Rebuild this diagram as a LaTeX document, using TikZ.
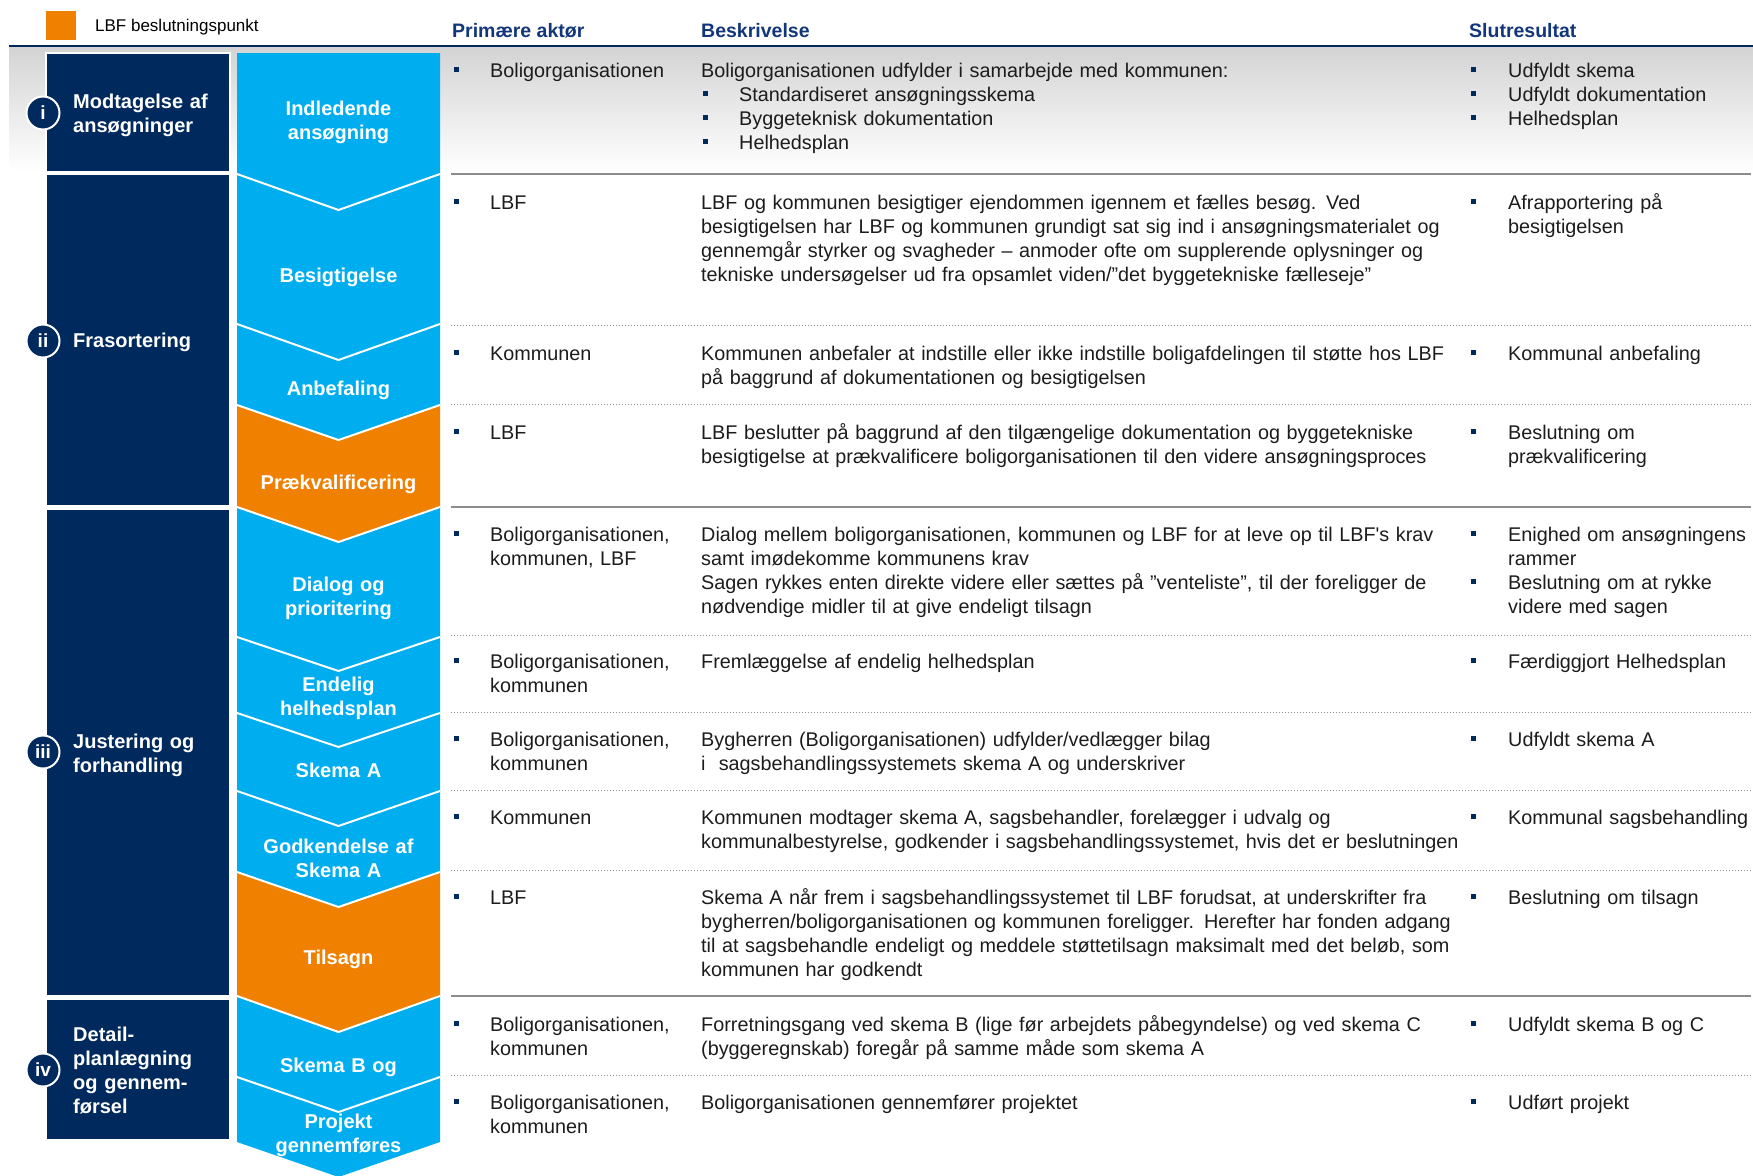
\documentclass[tikz,border=0pt]{standalone}
\usepackage{fontspec}
\setmainfont{Liberation Sans}
\usepackage{tikz}

\definecolor{lbfnavy}{RGB}{0,41,94}
\definecolor{lbfcyan}{RGB}{0,174,239}
\definecolor{lbforange}{RGB}{240,128,0}
\definecolor{lbfhead}{RGB}{18,54,122}
\definecolor{lbftext}{RGB}{28,28,28}

% small square bullet, centred a little above the baseline
\newcommand{\sqb}[2]{\fill[lbfnavy] (#1-2.5,#2-10.5) rectangle ++(5,5);}

\begin{document}
\begin{tikzpicture}[x=1pt,y=-1pt,
  phasebox/.style={fill=lbfnavy,draw=white,line width=1.5pt},
  phasetxt/.style={text=white,font=\bfseries\fontsize{20}{24}\selectfont,
    anchor=base west,align=left,inner sep=0pt,text width=150pt},
  phasenum/.style={circle,fill=lbfnavy,draw=white,line width=2pt,
    minimum size=33pt,inner sep=0pt,text=white,font=\bfseries\fontsize{19}{22}\selectfont},
  stepfill/.style={fill=lbfcyan},
  gofill/.style={fill=lbforange},
  vline/.style={draw=white,line width=2pt},
  steptxt/.style={text=white,font=\bfseries\fontsize{20}{24}\selectfont,
    anchor=base,align=center,inner sep=0pt,text width=200pt},
  colhead/.style={text=lbfhead,font=\bfseries\fontsize{19.5}{24}\selectfont,
    anchor=base west,inner sep=0pt},
  keytxt/.style={text=black,font=\fontsize{17}{20}\selectfont,anchor=base west,inner sep=0pt},
  body/.style={text=lbftext,font=\fontsize{19.8}{24}\selectfont,
    anchor=base west,align=left,inner sep=0pt,text width=#1},
  body/.default=200pt,
  headline/.style={draw=lbfnavy,line width=2.5pt},
  solidsep/.style={draw=black!45,line width=2pt},
  dotsep/.style={draw=black!45,line width=1pt,dash pattern=on 1pt off 2pt}
]
\useasboundingbox (0,0) rectangle (1753,1175);

% Legend
\fill[lbforange] (46,11) rectangle (76,40);
\node[keytxt] (key) at (95,31) {LBF beslutningspunkt};

% First row shading and header rule
\shade[top color=black!17,bottom color=white] (9,47) rectangle (1753,172);
\draw[headline] (9,46) -- (1753,46);

% Column headings
\node[colhead] (hActor)  at (452,37)  {Primære aktør};
\node[colhead] (hDesc)   at (701,37)  {Beskrivelse};
\node[colhead] (hResult) at (1469,37) {Slutresultat};

% Phases (dark column)
\draw[phasebox] (46,53)  rectangle (230,172);
\draw[phasebox] (46,174) rectangle (230,506);
\draw[phasebox] (46,509) rectangle (230,996);
\draw[phasebox] (46,999) rectangle (230,1140);

\node[phasetxt] (p1) at (73,108)  {Modtagelse af\\ansøgninger};
\node[phasetxt] (p2) at (73,347)  {Frasortering};
\node[phasetxt] (p3) at (73,748)  {Justering og\\forhandling};
\node[phasetxt] (p4) at (73,1041) {Detail-\\planlægning\\og gennem-\\førsel};

\node[phasenum] (n1) at (43,113)  {i};
\node[phasenum] (n2) at (43,341)  {ii};
\node[phasenum] (n3) at (43,752)  {iii};
\node[phasenum] (n4) at (43,1070) {iv};

% Process chevrons
\fill[stepfill] (237,53) -- (440,53) -- (440,174) -- (338.5,210) -- (237,174) -- cycle;
\fill[stepfill] (237,174) -- (338.5,210) -- (440,174) -- (440,324) -- (338.5,360) -- (237,324) -- cycle;
\fill[stepfill] (237,324) -- (338.5,360) -- (440,324) -- (440,405) -- (338.5,440) -- (237,405) -- cycle;
\fill[gofill]   (237,405) -- (338.5,440) -- (440,405) -- (440,507) -- (338.5,542) -- (237,507) -- cycle;
\fill[stepfill] (237,507) -- (338.5,542) -- (440,507) -- (440,637) -- (338.5,671) -- (237,637) -- cycle;
\fill[stepfill] (237,637) -- (338.5,671) -- (440,637) -- (440,713) -- (338.5,747) -- (237,713) -- cycle;
\fill[stepfill] (237,713) -- (338.5,747) -- (440,713) -- (440,791) -- (338.5,826) -- (237,791) -- cycle;
\fill[stepfill] (237,791) -- (338.5,826) -- (440,791) -- (440,872) -- (338.5,907) -- (237,872) -- cycle;
\fill[gofill]   (237,872) -- (338.5,907) -- (440,872) -- (440,996) -- (338.5,1032) -- (237,996) -- cycle;
\fill[stepfill] (237,996) -- (338.5,1032) -- (440,996) -- (440,1077) -- (338.5,1112) -- (237,1077) -- cycle;
\fill[stepfill] (237,1077) -- (338.5,1112) -- (440,1077) -- (440,1142) -- (338.5,1177) -- (237,1142) -- cycle;

\draw[vline] (237,174) -- (338.5,210) -- (440,174);
\draw[vline] (237,324) -- (338.5,360) -- (440,324);
\draw[vline] (237,405) -- (338.5,440) -- (440,405);
\draw[vline] (237,507) -- (338.5,542) -- (440,507);
\draw[vline] (237,637) -- (338.5,671) -- (440,637);
\draw[vline] (237,713) -- (338.5,747) -- (440,713);
\draw[vline] (237,791) -- (338.5,826) -- (440,791);
\draw[vline] (237,872) -- (338.5,907) -- (440,872);
\draw[vline] (237,996) -- (338.5,1032) -- (440,996);
\draw[vline] (237,1077) -- (338.5,1112) -- (440,1077);

\node[steptxt] (s1)  at (338.5,115)  {Indledende\\ansøgning};
\node[steptxt] (s2)  at (338.5,282)  {Besigtigelse};
\node[steptxt] (s3)  at (338.5,395)  {Anbefaling};
\node[steptxt] (s4)  at (338.5,489)  {Prækvalificering};
\node[steptxt] (s5)  at (338.5,591)  {Dialog og\\prioritering};
\node[steptxt] (s6)  at (338.5,691)  {Endelig\\helhedsplan};
\node[steptxt] (s7)  at (338.5,777)  {Skema A};
\node[steptxt] (s8)  at (338.5,853)  {Godkendelse af\\Skema A};
\node[steptxt] (s9)  at (338.5,964)  {Tilsagn};
\node[steptxt] (s10) at (338.5,1072) {Skema B og};
\node[steptxt] (s11) at (338.5,1128) {Projekt\\gennemføres};

% Row separators
\draw[solidsep] (451,174)  -- (1751,174);
\draw[dotsep]   (451,325)  -- (1751,325);
\draw[dotsep]   (451,404)  -- (1751,404);
\draw[solidsep] (451,507)  -- (1751,507);
\draw[dotsep]   (451,635)  -- (1751,635);
\draw[dotsep]   (451,712)  -- (1751,712);
\draw[dotsep]   (451,790)  -- (1751,790);
\draw[dotsep]   (451,870)  -- (1751,870);
\draw[solidsep] (451,996)  -- (1751,996);
\draw[dotsep]   (451,1075) -- (1751,1075);

% Row 1
\sqb{456}{77}
\node[body] (r1a) at (490,77) {Boligorganisationen};
\node[body=780pt] (r1d) at (701,77) {Boligorganisationen udfylder i samarbejde med kommunen:};
\sqb{705}{101}\sqb{705}{125}\sqb{705}{149}
\node[body=600pt] (r1e) at (739,101) {Standardiseret ansøgningsskema\\Byggeteknisk dokumentation\\Helhedsplan};
\sqb{1473}{77}\sqb{1473}{101}\sqb{1473}{125}
\node[body=250pt] (r1r) at (1508,77) {Udfyldt skema\\Udfyldt dokumentation\\Helhedsplan};

% Row 2
\sqb{456}{209}
\node[body] (r2a) at (490,209) {LBF};
\node[body=780pt] (r2d) at (701,209) {LBF og kommunen besigtiger ejendommen igennem et fælles besøg. Ved\\besigtigelsen har LBF og kommunen grundigt sat sig ind i ansøgningsmaterialet og\\gennemgår styrker og svagheder – anmoder ofte om supplerende oplysninger og\\tekniske undersøgelser ud fra opsamlet viden/”det byggetekniske fælleseje”};
\sqb{1473}{209}
\node[body=250pt] (r2r) at (1508,209) {Afrapportering på\\besigtigelsen};

% Row 3
\sqb{456}{360}
\node[body] (r3a) at (490,360) {Kommunen};
\node[body=780pt] (r3d) at (701,360) {Kommunen anbefaler at indstille eller ikke indstille boligafdelingen til støtte hos LBF\\på baggrund af dokumentationen og besigtigelsen};
\sqb{1473}{360}
\node[body=250pt] (r3r) at (1508,360) {Kommunal anbefaling};

% Row 4
\sqb{456}{439}
\node[body] (r4a) at (490,439) {LBF};
\node[body=780pt] (r4d) at (701,439) {LBF beslutter på baggrund af den tilgængelige dokumentation og byggetekniske\\besigtigelse at prækvalificere boligorganisationen til den videre ansøgningsproces};
\sqb{1473}{439}
\node[body=250pt] (r4r) at (1508,439) {Beslutning om\\prækvalificering};

% Row 5
\sqb{456}{541}
\node[body] (r5a) at (490,541) {Boligorganisationen,\\kommunen, LBF};
\node[body=780pt] (r5d) at (701,541) {Dialog mellem boligorganisationen, kommunen og LBF for at leve op til LBF\textquotesingle s krav\\samt imødekomme kommunens krav\\Sagen rykkes enten direkte videre eller sættes på ”venteliste”, til der foreligger de\\nødvendige midler til at give endeligt tilsagn};
\sqb{1473}{541}\sqb{1473}{589}
\node[body=250pt] (r5r) at (1508,541) {Enighed om ansøgningens\\rammer\\Beslutning om at rykke\\videre med sagen};

% Row 6
\sqb{456}{668}
\node[body] (r6a) at (490,668) {Boligorganisationen,\\kommunen};
\node[body=780pt] (r6d) at (701,668) {Fremlæggelse af endelig helhedsplan};
\sqb{1473}{668}
\node[body=250pt] (r6r) at (1508,668) {Færdiggjort Helhedsplan};

% Row 7
\sqb{456}{746}
\node[body] (r7a) at (490,746) {Boligorganisationen,\\kommunen};
\node[body=780pt] (r7d) at (701,746) {Bygherren (Boligorganisationen) udfylder/vedlægger bilag\\i~ sagsbehandlingssystemets skema A og underskriver};
\sqb{1473}{746}
\node[body=250pt] (r7r) at (1508,746) {Udfyldt skema A};

% Row 8
\sqb{456}{824}
\node[body] (r8a) at (490,824) {Kommunen};
\node[body=780pt] (r8d) at (701,824) {Kommunen modtager skema A, sagsbehandler, forelægger i udvalg og\\kommunalbestyrelse, godkender i sagsbehandlingssystemet, hvis det er beslutningen};
\sqb{1473}{824}
\node[body=250pt] (r8r) at (1508,824) {Kommunal sagsbehandling};

% Row 9
\sqb{456}{904}
\node[body] (r9a) at (490,904) {LBF};
\node[body=780pt] (r9d) at (701,904) {Skema A når frem i sagsbehandlingssystemet til LBF forudsat, at underskrifter fra\\bygherren/boligorganisationen og kommunen foreligger. Herefter har fonden adgang\\til at sagsbehandle endeligt og meddele støttetilsagn maksimalt med det beløb, som\\kommunen har godkendt};
\sqb{1473}{904}
\node[body=250pt] (r9r) at (1508,904) {Beslutning om tilsagn};

% Row 10
\sqb{456}{1031}
\node[body] (r10a) at (490,1031) {Boligorganisationen,\\kommunen};
\node[body=780pt] (r10d) at (701,1031) {Forretningsgang ved skema B (lige før arbejdets påbegyndelse) og ved skema C\\(byggeregnskab) foregår på samme måde som skema A};
\sqb{1473}{1031}
\node[body=250pt] (r10r) at (1508,1031) {Udfyldt skema B og C};

% Row 11
\sqb{456}{1109}
\node[body] (r11a) at (490,1109) {Boligorganisationen,\\kommunen};
\node[body=780pt] (r11d) at (701,1109) {Boligorganisationen gennemfører projektet};
\sqb{1473}{1109}
\node[body=250pt] (r11r) at (1508,1109) {Udført projekt};
\end{tikzpicture}
\end{document}
